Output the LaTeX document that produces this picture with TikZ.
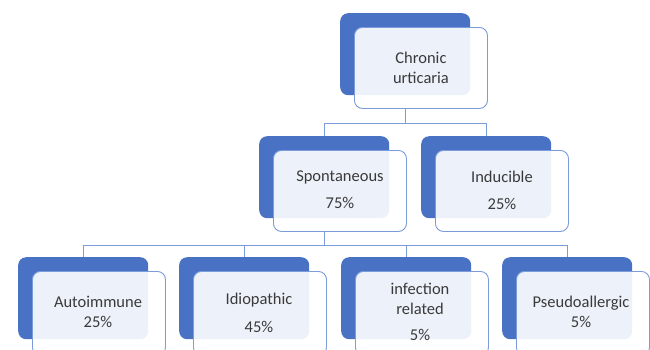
\documentclass[tikz,border=0pt]{standalone}
\usepackage{fontspec}
\setmainfont{Carlito}
\definecolor{darkblue}{HTML}{4A72C4}
\definecolor{edgeblue}{HTML}{7B9BDA}
\definecolor{txt}{HTML}{3A3A3A}
\tikzset{
  backbox/.style={draw=none, fill=darkblue, rounded corners=8pt, minimum width=130pt, minimum height=82pt, anchor=north west, inner sep=0pt},
  frontbox/.style={draw=edgeblue, line width=0.9pt, fill=white, fill opacity=0.9, text opacity=1, rounded corners=8pt, minimum width=133pt, minimum height=81pt, anchor=north west, inner sep=0pt},
  label/.style={text=txt, font=\fontsize{16.5}{20}\selectfont, align=center, inner sep=0pt},
  conn/.style={draw=edgeblue, line width=0.9pt}
}
\begin{document}
\begin{tikzpicture}[x=1pt,y=-1pt]
\useasboundingbox (0,0) rectangle (650,349);
\clip (0,0) rectangle (650,349);
\fill[white] (0,0) rectangle (650,349);
% coordinates of buses
\coordinate (bus1) at (0,123);
\coordinate (bus2) at (0,245);
% top
\node[backbox] (topD) at (340,13) {};
\node[frontbox] (topL) at (354,27) {};
\node[label] (topT) at (topL.center) {Chronic\\urticaria};
% second row
\node[backbox] (spD) at (259,136) {};
\node[frontbox] (spL) at (273,150) {};
\node[label] (spT) at ([yshift=1pt]spL.center) {Spontaneous\\[7pt]75\%};
\node[backbox] (inD) at (421,136) {};
\node[frontbox] (inL) at (435,150) {};
\node[label] (inT) at ([yshift=1pt]inL.center) {Inducible\\[7pt]25\%};
% third row
\node[backbox] (auD) at (18,257) {};
\node[frontbox, minimum height=84pt] (auL) at (32,271) {};
\node[label] (auT) at (98,312) {Autoimmune\\25\%};
\node[backbox] (idD) at (179,257) {};
\node[frontbox, minimum height=84pt] (idL) at (193,271) {};
\node[label] (idT) at (259,313) {Idiopathic\\[8pt]45\%};
\node[backbox] (ifD) at (341,257) {};
\node[frontbox, minimum height=84pt] (ifL) at (355,271) {};
\node[label] (ifT) at (420,312) {infection\\related\\[6pt]5\%};
\node[backbox] (psD) at (502,257) {};
\node[frontbox, minimum height=84pt] (psL) at (516,271) {};
\node[label] (psT) at (581,312) {Pseudoallergic\\5\%};
% connectors
\draw[conn] (topD.south |- topL.south) -- (topD.south |- bus1);
\draw[conn] (spD.north) -- (spD.north |- bus1) -- (inD.north |- bus1) -- (inD.north);
\draw[conn] (spD.south |- spL.south) -- (spD.south |- bus2);
\draw[conn] (auD.north) -- (auD.north |- bus2) -- (psD.north |- bus2) -- (psD.north);
\draw[conn] (idD.north) -- (idD.north |- bus2);
\draw[conn] (ifD.north) -- (ifD.north |- bus2);
\end{tikzpicture}
\end{document}
